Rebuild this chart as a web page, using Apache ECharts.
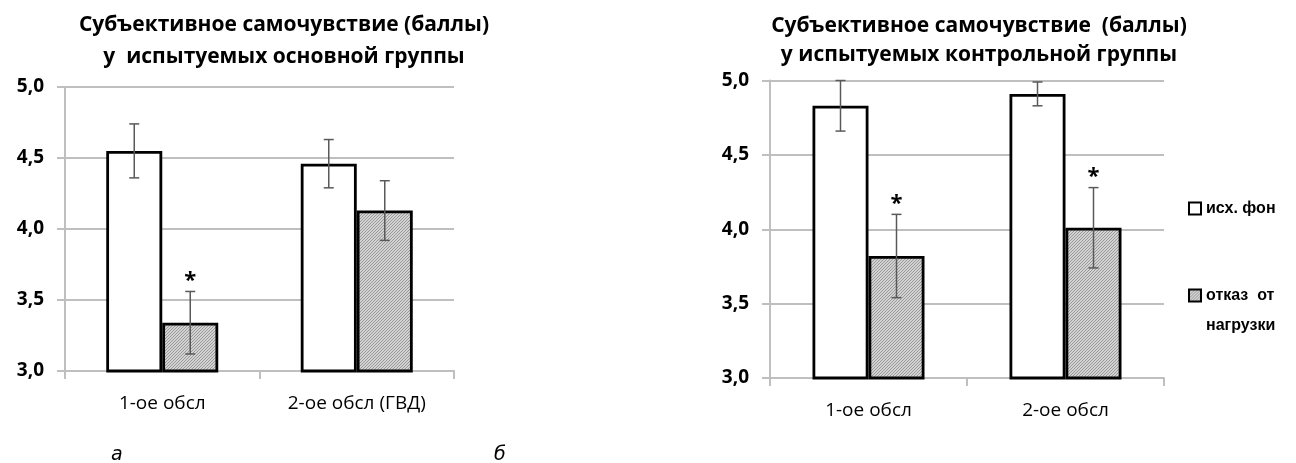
<!DOCTYPE html>
<html><head><meta charset="utf-8">
<script src="https://cdn.jsdelivr.net/npm/echarts@6/dist/echarts.min.js"></script>
<style>html,body{margin:0;padding:0;background:#fff}#c{width:1296px;height:463px}</style>
</head><body><div id="c"></div>
<script>
// ---- data ----
const titleA = 'Субъективное самочувствие (баллы)\nу  испытуемых основной группы';
const titleB = 'Субъективное самочувствие  (баллы)\nу испытуемых контрольной группы';
const categoriesA = ['1-ое обсл', '2-ое обсл (ГВД)'];
const categoriesB = ['1-ое обсл', '2-ое обсл'];
const seriesNames = ['исх. фон', 'отказ от нагрузки'];
const baselineA = [4.55, 4.46];
const baselineErrA = [0.19, 0.17];
const refusalA = [3.34, 4.13];
const refusalErrA = [0.22, 0.21];
const refusalSigA = [1, 0];
const baselineB = [4.83, 4.91];
const baselineErrB = [0.17, 0.08];
const refusalB = [3.82, 4.01];
const refusalErrB = [0.28, 0.27];
const refusalSigB = [1, 1];
const yMin = 3.0, yMax = 5.0, yStep = 0.5;
const panelLabels = ['а', 'б'];

// ---- style ----
const FONT = '"Open Sans", "Noto Sans", sans-serif';
const LFONT = '"Liberation Sans", Arial, sans-serif';
const BAR_W = 56;
const GRID_C = '#bfbfbf';

function hatch() {
  const c = document.createElement('canvas'); c.width = 3; c.height = 3;
  const g = c.getContext('2d');
  g.fillStyle = '#d2d2d2'; g.fillRect(0, 0, 3, 3);
  g.fillStyle = '#9a9a9a';
  for (let i = 0; i < 3; i++) g.fillRect(i, 2 - i, 1, 1);
  return c;
}
const hatchFill = { image: hatch(), repeat: 'repeat' };

function barSeries(gi, name, data, fill) {
  return {
    type: 'bar', name, xAxisIndex: gi, yAxisIndex: gi, data,
    barWidth: BAR_W, barGap: '0%',
    itemStyle: { color: fill, borderColor: '#000', borderWidth: 2.8 }
  };
}
function errSeries(gi, values, errs, sigs, side) {
  return {
    type: 'custom', xAxisIndex: gi, yAxisIndex: gi, z: 5, silent: true,
    data: values.map((v, i) => [i, v, errs[i], sigs ? sigs[i] : 0]),
    renderItem(params, api) {
      const i = api.value(0), v = api.value(1), e = api.value(2);
      const top = api.coord([i, v + e]), bot = api.coord([i, v - e]);
      const x = top[0] + side * BAR_W / 2;
      const st = { stroke: '#595959', lineWidth: 1.5 };
      const ch = [
        { type: 'line', shape: { x1: x, y1: top[1], x2: x, y2: bot[1] }, style: st },
        { type: 'line', shape: { x1: x - 5, y1: top[1], x2: x + 5, y2: top[1] }, style: st },
        { type: 'line', shape: { x1: x - 5, y1: bot[1], x2: x + 5, y2: bot[1] }, style: st }
      ];
      if (api.value(3)) ch.push({ type: 'text', style: { text: '*', x: x, y: top[1] - 11, align: 'center', verticalAlign: 'middle', font: 'bold 22px ' + FONT, fill: '#000' } });
      return { type: 'group', children: ch };
    }
  };
}
function xAx(gi, cats) {
  return {
    gridIndex: gi, type: 'category', data: cats,
    axisLine: { lineStyle: { color: GRID_C, width: 2 } },
    axisTick: { show: true, length: 8, lineStyle: { color: GRID_C, width: 2 } },
    axisLabel: { fontSize: 19, color: '#000', margin: 23, fontFamily: FONT }
  };
}
function yAx(gi) {
  return {
    gridIndex: gi, type: 'value', min: yMin, max: yMax, interval: yStep,
    axisLine: { show: true, lineStyle: { color: GRID_C, width: 2 } },
    axisTick: { show: true, length: 8, lineStyle: { color: GRID_C, width: 2 } },
    splitLine: { lineStyle: { color: GRID_C, width: 2 } },
    axisLabel: { formatter: v => v.toFixed(1).replace('.', ','), fontSize: 19, fontWeight: 'bold', color: '#000', margin: 21, fontFamily: FONT }
  };
}

const chart = echarts.init(document.getElementById('c'), null, { renderer: 'canvas' });
chart.setOption({
  animation: false,
  backgroundColor: '#fff',
  title: [
    { text: titleA, left: 284, top: 9, padding: 0, textAlign: 'center', textStyle: { fontSize: 21, fontWeight: 'bold', lineHeight: 32, color: '#000', fontFamily: FONT } },
    { text: titleB, left: 979, top: 12, padding: 0, textAlign: 'center', textStyle: { fontSize: 21, fontWeight: 'bold', lineHeight: 29, color: '#000', fontFamily: FONT } }
  ],
  grid: [
    { left: 65, right: 842, top: 87, bottom: 92 },
    { left: 770, right: 132, top: 80.5, bottom: 85 }
  ],
  xAxis: [xAx(0, categoriesA), xAx(1, categoriesB)],
  yAxis: [yAx(0), yAx(1)],
  legend: [
    { data: [seriesNames[0]], left: 1188, top: 198.5, padding: 0, icon: 'rect', itemWidth: 12, itemHeight: 12,
      textStyle: { fontSize: 16, fontWeight: 'bold', color: '#000', lineHeight: 20, fontFamily: LFONT } },
    { data: [seriesNames[1]], left: 1188, top: 250.5, padding: 0, icon: 'rect', itemWidth: 12, itemHeight: 12,
      formatter: () => '\u00a0\nотказ  от\nнагрузки',
      textStyle: { fontSize: 16, fontWeight: 'bold', color: '#000', lineHeight: 30, fontFamily: LFONT } }
  ],
  graphic: [
    { type: 'text', left: 111, top: 446, style: { text: panelLabels[0], font: 'italic 19px "DejaVu Sans", sans-serif', fill: '#000' } },
    { type: 'text', left: 494, top: 446, style: { text: panelLabels[1], font: 'italic 19px "DejaVu Sans", sans-serif', fill: '#000' } }
  ],
  series: [
    barSeries(0, seriesNames[0], baselineA, '#fff'),
    barSeries(0, seriesNames[1], refusalA, hatchFill),
    errSeries(0, baselineA, baselineErrA, null, -1),
    errSeries(0, refusalA, refusalErrA, refusalSigA, 1),
    barSeries(1, seriesNames[0], baselineB, '#fff'),
    barSeries(1, seriesNames[1], refusalB, hatchFill),
    errSeries(1, baselineB, baselineErrB, null, -1),
    errSeries(1, refusalB, refusalErrB, refusalSigB, 1)
  ]
});
</script>
</body></html>
